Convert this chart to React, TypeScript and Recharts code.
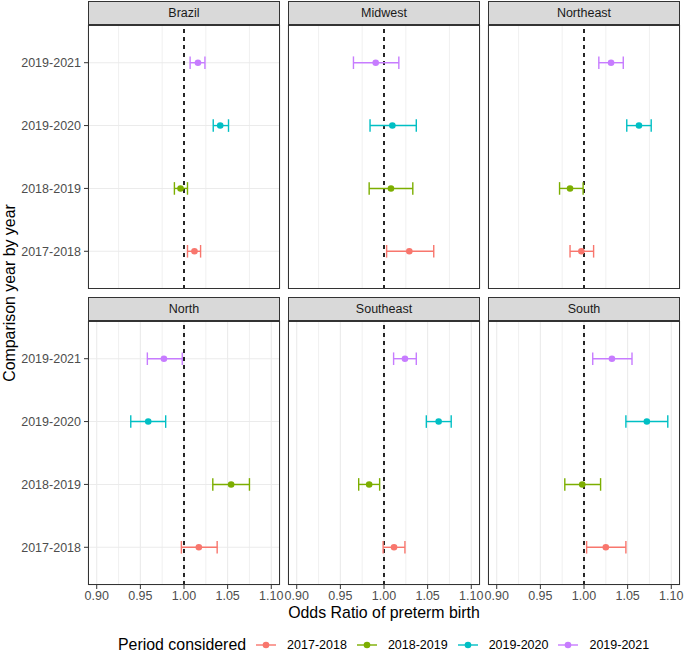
import React from 'react';
import { ScatterChart, Scatter, XAxis, YAxis, CartesianGrid, ReferenceLine, ErrorBar } from 'recharts';

const regions = ['Brazil', 'Midwest', 'Northeast', 'North', 'Southeast', 'South'];
const periods = ['2017-2018', '2018-2019', '2019-2020', '2019-2021'];
const colors = ['#F8766D', '#7CAE00', '#00BFC4', '#C77CFF'];
const xTicks = [0.9, 0.95, 1.0, 1.05, 1.1];
const xMinor = [0.925, 0.975, 1.025, 1.075];
const yTicks = [1, 2, 3, 4];

// Odds ratios per period, in region order (Brazil, Midwest, Northeast, North, Southeast, South)
const or20172018 = [1.012, 1.029, 0.997, 1.017, 1.0115, 1.025];
const lo20172018 = [1.004, 1.003, 0.984, 0.997, 0.999, 1.003];
const hi20172018 = [1.019, 1.057, 1.011, 1.038, 1.024, 1.048];

const or20182019 = [0.996, 1.008, 0.984, 1.054, 0.983, 0.998];
const lo20182019 = [0.989, 0.983, 0.972, 1.033, 0.971, 0.978];
const hi20182019 = [1.004, 1.033, 0.999, 1.075, 0.995, 1.019];

const or20192020 = [1.0415, 1.0096, 1.063, 0.959, 1.0626, 1.072];
const lo20192020 = [1.0335, 0.984, 1.049, 0.939, 1.0485, 1.048];
const hi20192020 = [1.051, 1.037, 1.077, 0.979, 1.077, 1.096];

const or20192021 = [1.016, 0.9905, 1.031, 0.977, 1.024, 1.032];
const lo20192021 = [1.007, 0.965, 1.017, 0.958, 1.011, 1.01];
const hi20192021 = [1.024, 1.017, 1.045, 0.998, 1.037, 1.055];

const estimates = [or20172018, or20182019, or20192020, or20192021];
const lowers = [lo20172018, lo20182019, lo20192020, lo20192021];
const uppers = [hi20172018, hi20182019, hi20192020, hi20192021];

const FONT = "'Liberation Sans', Arial, Helvetica, sans-serif";
const SMALL = 12.5;
const BIG = 15.9;

const errAccessor = (d: any) => {
  const p = d && d.payload ? d.payload : d;
  return [p.est - p.lo, p.hi - p.est];
};

function Panel({ r }: { r: number }) {
  const col = r % 3;
  const row = Math.floor(r / 3);
  const isLeft = col === 0;
  const isBottom = row === 1;
  const ML = 15;
  const MR = 15;
  const yw = isLeft ? 73 : 0;
  const panelLeft = 88 + col * 200;
  const stripTop = row === 0 ? 1 : 297;
  const plotTop = stripTop + 24;
  const plotW = 192;
  const plotH = 264;
  const xh = isBottom ? 30 : 0;
  const width = ML + yw + plotW + MR;
  const height = plotH + xh;
  const left = panelLeft - ML - yw;

  return (
    <>
      <div
        style={{
          position: 'absolute',
          left: panelLeft,
          top: stripTop,
          width: plotW,
          height: 24,
          boxSizing: 'border-box',
          background: '#D9D9D9',
          border: '1px solid #333333',
          display: 'flex',
          alignItems: 'center',
          justifyContent: 'center',
          fontFamily: FONT,
          fontSize: SMALL,
          color: '#1A1A1A',
        }}
      >
        {regions[r]}
      </div>
      <div style={{ position: 'absolute', left, top: plotTop }}>
        <ScatterChart width={width} height={height} margin={{ top: 0, right: MR, bottom: 0, left: ML }}>
          <CartesianGrid stroke="#EBEBEB" strokeWidth={1.1} />
          {xMinor.map((v) => (
            <ReferenceLine key={v} x={v} stroke="#EBEBEB" strokeWidth={0.7} />
          ))}
          <XAxis
            type="number"
            dataKey="est"
            domain={[0.89, 1.11]}
            ticks={xTicks}
            interval={0}
            allowDataOverflow
            height={xh}
            tick={isBottom ? { fill: '#4D4D4D', fontSize: SMALL, fontFamily: FONT } : false}
            tickLine={isBottom ? { stroke: '#333333' } : false}
            axisLine={false}
            tickSize={4}
            tickMargin={2}
            tickFormatter={(v: number) => v.toFixed(2)}
          />
          <YAxis
            type="number"
            dataKey="pos"
            domain={[0.4, 4.6]}
            ticks={yTicks}
            interval={0}
            width={yw}
            tick={isLeft ? { fill: '#4D4D4D', fontSize: SMALL, fontFamily: FONT } : false}
            tickLine={isLeft ? { stroke: '#333333' } : false}
            axisLine={false}
            tickSize={4}
            tickMargin={3}
            tickFormatter={(v: number) => periods[v - 1] ?? ''}
          />
          <ReferenceLine x={1} stroke="#000000" strokeWidth={1.7} strokeDasharray="4 4" />
          {periods.map((p, i) => (
            <Scatter
              key={p}
              name={p}
              data={[{ est: estimates[i][r], pos: i + 1, lo: lowers[i][r], hi: uppers[i][r] }]}
              fill={colors[i]}
              isAnimationActive={false}
              shape={(props: any) => <circle cx={props.cx} cy={props.cy} r={3.3} fill={colors[i]} />}
            >
              <ErrorBar
                dataKey={errAccessor as any}
                direction="x"
                width={6.3}
                stroke={colors[i]}
                strokeWidth={1.4}
                isAnimationActive={false}
              />
            </Scatter>
          ))}
        </ScatterChart>
      </div>
      <div
        style={{
          position: 'absolute',
          left: panelLeft,
          top: plotTop,
          width: plotW,
          height: plotH,
          boxSizing: 'border-box',
          border: '1px solid #333333',
          pointerEvents: 'none',
        }}
      />
    </>
  );
}

export default function App() {
  return (
    <div style={{ position: 'absolute', left: 0, top: 0, width: 685, height: 653, background: '#FFFFFF', fontFamily: FONT }}>
      {regions.map((_, r) => (
        <Panel key={r} r={r} />
      ))}
      <div
        style={{
          position: 'absolute',
          left: 88,
          width: 592,
          top: 603,
          textAlign: 'center',
          fontSize: BIG,
          color: '#000000',
          lineHeight: '20px',
        }}
      >
        Odds Ratio of preterm birth
      </div>
      <div
        style={{
          position: 'absolute',
          left: 10,
          top: 293,
          transform: 'translate(-50%, -50%) rotate(-90deg)',
          whiteSpace: 'nowrap',
          fontSize: BIG,
          color: '#000000',
          lineHeight: '18px',
        }}
      >
        Comparison year by year
      </div>
      <div
        style={{
          position: 'absolute',
          left: 118,
          top: 635,
          height: 20,
          display: 'flex',
          alignItems: 'center',
          whiteSpace: 'nowrap',
        }}
      >
        <span style={{ fontSize: BIG, color: '#000000', marginRight: 10 }}>Period considered</span>
        {periods.map((p, i) => (
          <React.Fragment key={p}>
            <svg width={20} height={12} style={{ marginRight: 11 }}>
              <line x1={0} y1={6} x2={20} y2={6} stroke={colors[i]} strokeWidth={1.4} />
              <circle cx={10} cy={6} r={3.3} fill={colors[i]} />
            </svg>
            <span style={{ fontSize: SMALL, color: '#000000', marginRight: 10 }}>{p}</span>
          </React.Fragment>
        ))}
      </div>
    </div>
  );
}
